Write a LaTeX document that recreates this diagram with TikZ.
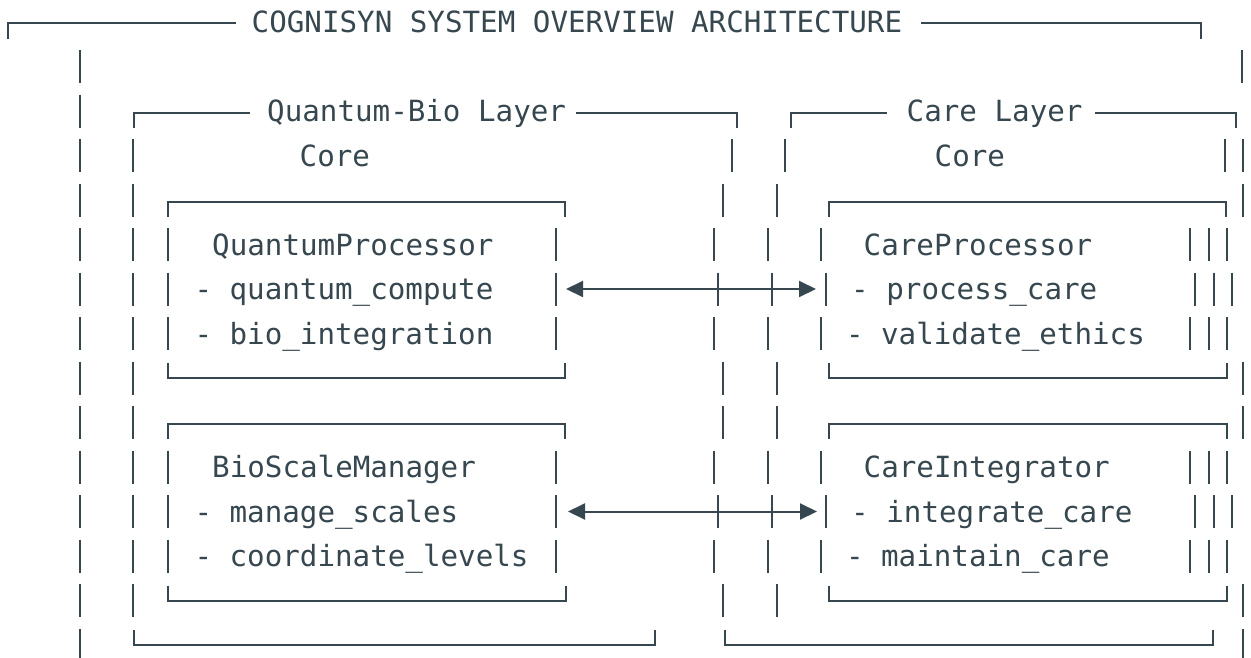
\documentclass[tikz,border=0pt]{standalone}
\usepackage{fontspec}
\setmonofont{DejaVu Sans Mono}
\usepackage{tikz}
\usetikzlibrary{arrows.meta}
\definecolor{slate}{RGB}{55,71,79}

\begin{document}
\begin{tikzpicture}[x=1pt, y=-1pt,
    bar/.style={slate, line width=2.2pt},
    rule/.style={slate, line width=2pt},
    txt/.style={text=slate, font=\ttfamily\fontsize{29.2}{35}\selectfont,
                anchor=base west, inner sep=0pt},
    biarrow/.style={slate, line width=2pt,
      {Triangle[length=17pt,width=16pt]}-{Triangle[length=17pt,width=16pt]}}]
  \useasboundingbox (0,0) rectangle (1251,657);

  % Title line of the outer frame
  \draw[rule] (8,39) |- (236,23);
  \draw[rule] (921,23) -| (1201,39);
  \node[txt] (title) at (251.5,32.5) {COGNISYN SYSTEM OVERVIEW ARCHITECTURE};

  % Layer headings
  \draw[rule] (134,127.5) |- (250,112.5);
  \draw[rule] (576,112.5) -| (737,127.5);
  \node[txt] (qbtitle) at (267,121.5) {Quantum-Bio Layer};
  \draw[rule] (791,127.5) |- (887,112.5);
  \draw[rule] (1095,112.5) -| (1236,127.5);
  \node[txt] (caretitle) at (906.5,121.5) {Care Layer};
  \node[txt] (qbcore) at (299.5,166) {Core};
  \node[txt] (carecore) at (934.5,166) {Core};

  % Tops and bottoms of the component boxes
  \draw[rule] (168,216.5) |- (565,201.5) -- (565,216.5);
  \draw[rule] (829,216.5) |- (1226,201.5) -- (1226,216.5);
  \draw[rule] (168,363) |- (565,378) -- (565,363);
  \draw[rule] (829,363) |- (1227,378) -- (1227,363);
  \draw[rule] (168,439) |- (565,424) -- (565,439);
  \draw[rule] (829,439) |- (1227,424) -- (1227,439);
  \draw[rule] (168,585.5) |- (566,600.5) -- (566,585.5);
  \draw[rule] (829,585.5) |- (1227,600.5) -- (1227,585.5);

  % Bottoms of the layer frames
  \draw[rule] (134,630) |- (655,645) -- (655,630);
  \draw[rule] (725,630) |- (1213,645) -- (1213,630);

  % Vertical bars, one per text row
  \foreach \rw in {1,...,14}
    \draw[bar] (80,22+44.5*\rw-16.5) -- ++(0,33);
  \foreach \rw in {3,...,13}
    \draw[bar] (133,22+44.5*\rw-16.5) -- ++(0,33);
  \foreach \rw in {5,6,7,10,11,12} {
    \draw[bar] (168,22+44.5*\rw-16.5) -- ++(0,33);
    \draw[bar] (556,22+44.5*\rw-16.5) -- ++(0,33);
  }
  \foreach \xx/\rw in {732/3, 785/3, 723/4, 777/4, 714/5, 768/5, 718/6, 772/6,
                       714/7, 768/7, 723/8, 777/8, 723/9, 777/9, 714/10, 768/10,
                       718/11, 772/11, 714/12, 768/12, 723/13, 777/13}
    \draw[bar] (\xx,22+44.5*\rw-16.5) -- ++(0,33);
  \foreach \xx/\rw in {821/5, 826/6, 821/7, 821/10, 826/11, 821/12}
    \draw[bar] (\xx,22+44.5*\rw-16.5) -- ++(0,33);
  \foreach \rw/\dx in {5/0, 6/5, 7/0, 10/0, 11/5, 12/0}
    \foreach \xx in {1190,1209,1227}
      \draw[bar] (\xx+\dx,22+44.5*\rw-16.5) -- ++(0,33);
  \foreach \xx/\rw in {1242/1, 1225/3, 1243/3, 1243/4, 1243/8, 1243/9,
                       1243/13, 1243/14}
    \draw[bar] (\xx,22+44.5*\rw-16.5) -- ++(0,33);

  % Component texts
  \node[txt] (qproc) at (212,255) {QuantumProcessor};
  \node[txt] (qcompute) at (194.3,299.5) {- quantum\_compute};
  \node[txt] (biointeg) at (194.3,344) {- bio\_integration};
  \node[txt] (bsm) at (212,477.5) {BioScaleManager};
  \node[txt] (mscales) at (194.3,522) {- manage\_scales};
  \node[txt] (clevels) at (194.3,566.5) {- coordinate\_levels};
  \node[txt] (cproc) at (863.5,255) {CareProcessor};
  \node[txt] (pcare) at (851,299.5) {- process\_care};
  \node[txt] (vethics) at (845.8,344) {- validate\_ethics};
  \node[txt] (cinteg) at (863.5,477.5) {CareIntegrator};
  \node[txt] (icare) at (851,522) {- integrate\_care};
  \node[txt] (mcare) at (845.8,566.5) {- maintain\_care};

  % Links between the two layers
  \coordinate (qproc-e) at (566,289);
  \coordinate (cproc-w) at (816,289);
  \coordinate (bsm-e) at (568,511.5);
  \coordinate (cinteg-w) at (817,511.5);
  \draw[biarrow] (qproc-e) -- (cproc-w);
  \draw[biarrow] (bsm-e) -- (cinteg-w);
\end{tikzpicture}
\end{document}
